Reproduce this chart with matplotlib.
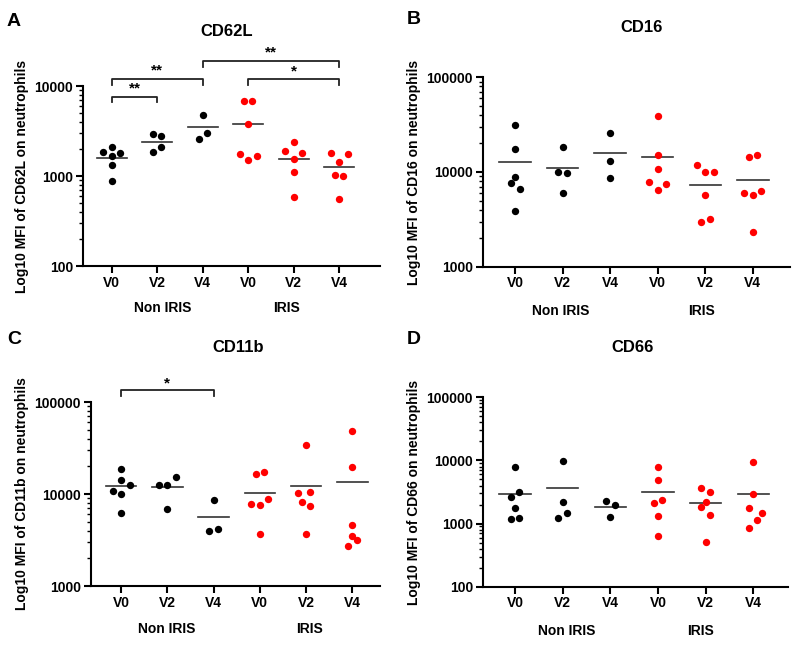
import matplotlib
matplotlib.use("Agg")
import matplotlib.pyplot as plt
import numpy as np
from matplotlib.ticker import LogLocator, FixedLocator, NullFormatter

plt.rcParams['font.family'] = ['Liberation Sans', 'DejaVu Sans']
plt.rcParams['font.weight'] = 'bold'

categories = ["V0", "V2", "V4", "V0", "V2", "V4"]
groups = ["Non IRIS", "IRIS"]

# Panel A: CD62L
cd62l = [
    [1830, 2080, 1800, 1670, 1315, 880],
    [2930, 2760, 1830, 2080],
    [4800, 2600, 2980],
    [6870, 6870, 3750, 1770, 1660, 1490],
    [1900, 2400, 1800, 1545, 1100, 585],
    [1790, 1440, 1740, 1030, 1000, 555],
]
# Panel B: CD16
cd16 = [
    [31600, 17300, 8930, 7710, 6670, 3910],
    [18500, 9920, 9760, 5950],
    [26000, 13100, 8710],
    [38700, 15000, 10700, 7900, 7470, 6450],
    [11950, 9920, 9920, 5670, 2940, 3160],
    [14500, 15200, 6000, 5670, 6250, 2340],
]
# Panel C: CD11b
cd11b = [
    [18700, 14200, 12500, 10800, 10100, 6160],
    [12500, 12500, 15200, 6870],
    [8610, 3930, 4170],
    [17500, 16500, 8830, 7790, 7530, 3680],
    [33800, 10200, 10600, 8250, 7410, 3700],
    [48000, 19800, 4600, 3520, 3190, 2740],
]
# Panel D: CD66
cd66 = [
    [7960, 3160, 2600, 1740, 1180, 1220],
    [9910, 2220, 1470, 1240],
    [2300, 1990, 1290],
    [7870, 4840, 2330, 2120, 1330, 634],
    [3660, 3160, 2170, 1830, 1350, 510],
    [9440, 2970, 1780, 1470, 1150, 860],
]

# horizontal scatter offsets of points within each column
offsA = [
    [-0.57, 0, 0.57, 0, 0, 0],
    [-0.28, 0.28, -0.28, 0.28],
    [0.0, -0.28, 0.28],
    [-0.28, 0.28, 0, -0.57, 0.57, 0],
    [-0.57, 0, 0.57, 0, 0, 0],
    [-0.57, 0, 0.57, -0.28, 0.28, 0],
]
offsB = [
    [0, 0, 0, -0.3, 0.3, 0],
    [0, -0.3, 0.3, 0],
    [0, 0, 0],
    [0, 0, 0, -0.57, 0.57, 0],
    [-0.57, 0, 0.57, 0, -0.28, 0.28],
    [-0.28, 0.28, -0.57, 0, 0.57, 0],
]
offsC = [
    [0, 0, 0.57, -0.57, 0, 0],
    [-0.57, 0, 0.57, 0],
    [0, -0.28, 0.28],
    [0.28, -0.28, 0.57, -0.57, 0, 0],
    [0, -0.57, 0.28, -0.28, 0.28, 0],
    [0, 0, 0, 0, 0.3, -0.3],
]
offsD = [
    [0, 0.28, -0.28, 0, -0.28, 0.28],
    [0, 0, 0.3, -0.3],
    [-0.28, 0.28, 0],
    [0, 0, 0.28, -0.28, 0, 0],
    [-0.28, 0.28, 0, -0.28, 0.28, 0],
    [0, 0, -0.28, 0.57, 0.28, -0.28],
]

colors = ["black", "black", "black", "#ff0000", "#ff0000", "#ff0000"]

panels = [
    dict(letter="A", title="CD62L", data=cd62l, offs=offsA,
         rect=(82.7, 86, 380, 266), ylim=(100, 10000), xlim=(-0.64, 5.9),
         spacing=45.5, grp=(1.13, 3.85),
         brackets=[(0, 1, 7600, 6700, "**", 9300), (0, 2, 11860, 10160, "**", 14700),
                   (2, 5, 19100, 16400, "**", 23800), (3, 5, 11860, 10160, "*", 14500)],
         title_xy=(226.7, 31.7), letter_xy=(14, 21)),
    dict(letter="B", title="CD16", data=cd16, offs=offsB,
         rect=(482.7, 77.3, 790, 266.7), ylim=(1000, 100000), xlim=(-0.68, 5.78),
         spacing=47.6, grp=(0.95, 3.92), brackets=[],
         title_xy=(641.7, 27), letter_xy=(414, 20)),
    dict(letter="C", title="CD11b", data=cd11b, offs=offsC,
         rect=(90.7, 402, 380, 586), ylim=(1000, 100000), xlim=(-0.66, 5.6),
         spacing=46.2, grp=(0.98, 4.08),
         brackets=[(0, 2, 134900, 116000, "*", 158000)],
         title_xy=(238, 347), letter_xy=(14, 340)),
    dict(letter="D", title="CD66", data=cd66, offs=offsD,
         rect=(482.7, 397.3, 788, 586.7), ylim=(100, 100000), xlim=(-0.68, 5.73),
         spacing=47.6, grp=(1.09, 3.89), brackets=[],
         title_xy=(633, 347), letter_xy=(414, 340)),
]

W, H = 800, 646
fig = plt.figure(figsize=(W / 100, H / 100), dpi=100)

for p in panels:
    l, t, r, b = p["rect"]
    ax = fig.add_axes([l / W, 1 - b / H, (r - l) / W, (b - t) / H])
    ax.set_yscale("log")
    ax.set_ylim(*p["ylim"])
    ax.set_xlim(*p["xlim"])
    for s in ["top", "right"]:
        ax.spines[s].set_visible(False)
    for s in ["left", "bottom"]:
        ax.spines[s].set_linewidth(1.5)
    for i, vals in enumerate(p["data"]):
        xs = i + np.array(p["offs"][i]) * (15.0 / p["spacing"])
        ax.scatter(xs, vals, s=28, color=colors[i], zorder=3, linewidths=0, clip_on=False)
        m = np.mean(vals)
        ax.plot([i - 0.33, i + 0.33], [m, m], color="#333333", lw=1.2, zorder=2)
    ax.set_xticks(range(6))
    ax.set_xticklabels(categories, fontsize=10, fontweight="bold")
    decs = []
    v = p["ylim"][0]
    while v <= p["ylim"][1]:
        decs.append(v)
        v *= 10
    ax.yaxis.set_major_locator(FixedLocator(decs))
    ax.set_yticklabels([str(int(d)) for d in decs], fontsize=10, fontweight="bold")
    ax.yaxis.set_minor_locator(LogLocator(base=10, subs=np.arange(2, 10)))
    ax.yaxis.set_minor_formatter(NullFormatter())
    ax.tick_params(axis="both", which="major", length=5, width=1.5, pad=2, colors="black")
    ax.tick_params(axis="y", which="minor", length=3, width=1.0)
    ax.set_ylabel("Log10 MFI of %s on neutrophils" % p["title"], fontsize=10,
                  fontweight="bold", labelpad=4)
    for gx, g in zip(p["grp"], groups):
        ax.text(gx, -0.235, g, transform=ax.get_xaxis_transform(), ha="center",
                va="center", fontsize=10, fontweight="bold")
    for (x0, x1, yb, yt, lab, ys) in p["brackets"]:
        ax.plot([x0, x0, x1, x1], [yt, yb, yb, yt], color="#222222", lw=1.3,
                clip_on=False, zorder=4)
        ax.text((x0 + x1) / 2, ys, lab, ha="center", va="center", fontsize=11,
                fontweight="bold")
    fig.text(p["title_xy"][0] / W, 1 - p["title_xy"][1] / H, p["title"], ha="center",
             va="center", fontsize=12, fontweight="bold")
    fig.text(p["letter_xy"][0] / W, 1 - p["letter_xy"][1] / H, p["letter"], ha="center",
             va="center", fontsize=14, fontweight="bold")

fig.savefig("out.png", dpi=100)
